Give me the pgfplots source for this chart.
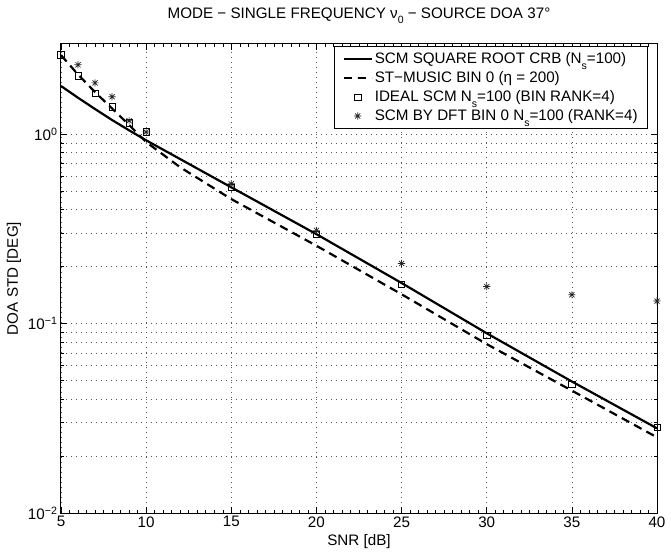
\documentclass[border=0pt]{standalone}
\usepackage{fontspec}
\setmainfont{Liberation Sans}
\usepackage{pgfplots}
\pgfplotsset{compat=1.18}
\newcommand\sub[1]{\raisebox{-0.36em}{\fontsize{10.5bp}{10.5bp}\selectfont #1}}
\pgfdeclareplotmark{mstar}{%
  \pgfpathmoveto{\pgfqpoint{-\pgfplotmarksize}{0pt}}%
  \pgfpathlineto{\pgfqpoint{\pgfplotmarksize}{0pt}}%
  \pgfpathmoveto{\pgfqpoint{0pt}{-\pgfplotmarksize}}%
  \pgfpathlineto{\pgfqpoint{0pt}{\pgfplotmarksize}}%
  \pgfpathmoveto{\pgfqpoint{-.707\pgfplotmarksize}{-.707\pgfplotmarksize}}%
  \pgfpathlineto{\pgfqpoint{.707\pgfplotmarksize}{.707\pgfplotmarksize}}%
  \pgfpathmoveto{\pgfqpoint{-.707\pgfplotmarksize}{.707\pgfplotmarksize}}%
  \pgfpathlineto{\pgfqpoint{.707\pgfplotmarksize}{-.707\pgfplotmarksize}}%
  \pgfusepathqstroke}
\begin{document}
\begin{tikzpicture}[font=\fontsize{15.2bp}{18bp}\selectfont]
\begin{axis}[
  at={(0,0)}, anchor=south west,
  scale only axis, width=596bp, height=469bp,
  ymode=log, xmin=5, xmax=40, ymin=0.01, ymax=3,
  xtick={5,10,...,40}, xticklabels={5,10,15,20,25,30,35,40},
  minor x tick num=9,
  ytick={0.01,0.1,1},
  yticklabels={10\textsuperscript{−2},10\textsuperscript{−1},10\textsuperscript{0}},
  xmajorgrids, ymajorgrids, yminorgrids,
  grid style={black!65, line width=0.6bp, dash pattern=on 0.8bp off 4.2bp},
  minor grid style={black!65, line width=0.6bp, dash pattern=on 0.8bp off 4.2bp},
  tick align=inside,
  major tick length=6bp, minor tick length=3.5bp,
  every tick/.style={black, line width=0.6bp},
  every minor tick/.style={black, line width=0.5bp},
  axis line style={black, line width=1bp},
  title={MODE − SINGLE FREQUENCY ν\sub{0} − SOURCE DOA 37°},
  title style={anchor=base, at={(0.5,1)}, yshift=20bp},
  xlabel={SNR [dB]},
  ylabel={DOA STD [DEG]},
  legend style={at={(0.985,0.996)}, anchor=north east, draw=black,
    line width=0.8bp, fill=white, inner xsep=8bp, inner ysep=4.5bp,
    cells={anchor=west}, font=\fontsize{15.2bp}{18bp}\selectfont,
    row sep=2.5bp},
  legend image code/.code={\draw[mark repeat=2,mark phase=2,#1] plot coordinates {(0bp,0bp) (14bp,0bp) (28bp,0bp)};},
]
\addplot[black, line width=2.2bp, mark=none] coordinates {
 (5,1.80) (6,1.56) (7,1.36) (8,1.19) (9,1.05) (10,0.93) (12,0.74)
 (15,0.525) (20,0.297) (25,0.164) (30,0.089) (35,0.0495) (40,0.028)};
\addlegendentry{SCM SQUARE ROOT CRB (N\sub{s}=100)}
\addplot[black, line width=2.2bp, dash pattern=on 8.5bp off 5.5bp, mark=none] coordinates {
 (5,2.62) (6,2.07) (7,1.67) (8,1.37) (9,1.12) (10,0.91) (12,0.67)
 (15,0.455) (20,0.258) (25,0.143) (30,0.078) (35,0.0443) (40,0.0251)};
\addlegendentry{ST−MUSIC BIN 0 (η = 200)}
\addplot[only marks, mark=square, mark size=3.2bp, black, line width=0.6bp] coordinates {
 (5,2.63) (6,2.04) (7,1.65) (8,1.40) (9,1.15) (10,1.03) (15,0.526)
 (20,0.297) (25,0.161) (30,0.087) (35,0.048) (40,0.0284)};
\addlegendentry{IDEAL SCM N\sub{s}=100 (BIN RANK=4)}
\addplot[only marks, mark=mstar, mark size=3.6bp, black!85, line width=0.7bp] coordinates {
 (6,2.33) (7,1.87) (8,1.58) (9,1.18) (10,1.03) (15,0.548)
 (20,0.311) (25,0.208) (30,0.157) (35,0.142) (40,0.1316)};
\addlegendentry{SCM BY DFT BIN 0 N\sub{s}=100 (RANK=4)}
\end{axis}
\pgfresetboundingbox
\path (-61bp,-43bp) rectangle (610bp,513bp);
\end{tikzpicture}
\end{document}
